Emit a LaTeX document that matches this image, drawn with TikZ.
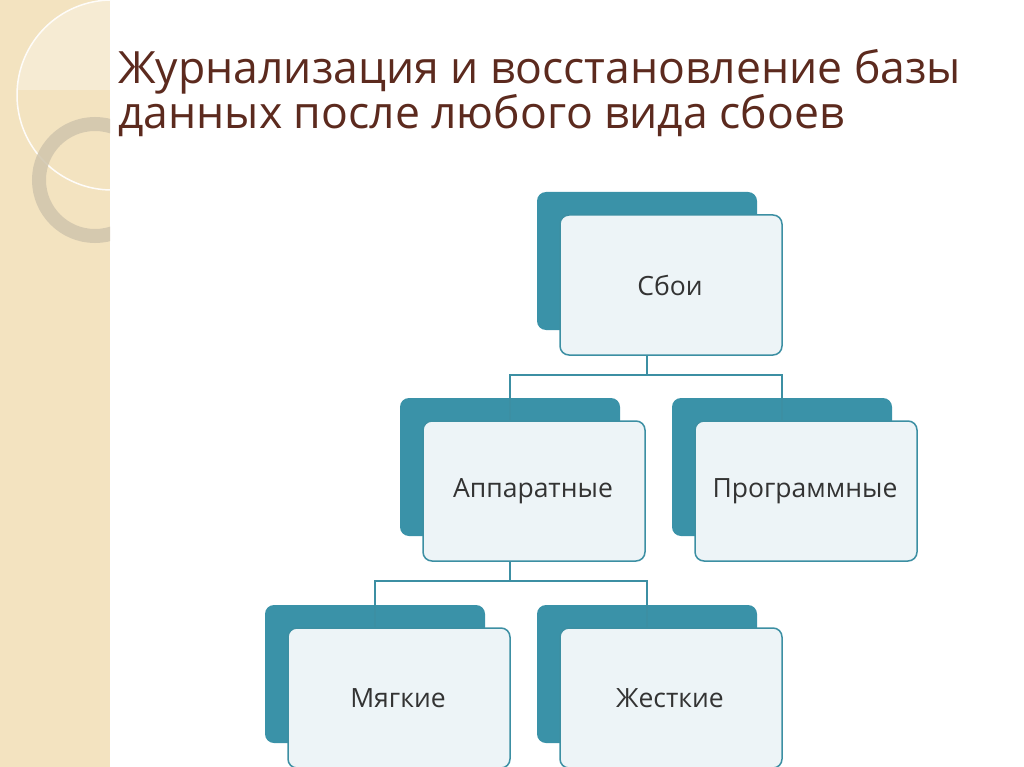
\documentclass[tikz,border=0pt]{standalone}
\usepackage{fontspec}
\setmainfont{Open Sans}
\definecolor{teal}{HTML}{3A92A8}
\definecolor{tealb}{HTML}{3C8FA3}
\definecolor{pale}{HTML}{EDF4F7}
\definecolor{strip}{HTML}{F3E3C0}
\definecolor{titlec}{HTML}{5C2A1E}
\begin{document}
\begin{tikzpicture}[x=1pt,y=-1pt,
 backbox/.style={fill=teal,rounded corners=9pt},
 frontbox/.style={fill=pale,draw=tealb,line width=1.5pt,rounded corners=9pt},
 lbl/.style={font=\fontsize{26.5}{30}\selectfont,text=black!80},
 link/.style={draw=tealb,line width=1.3pt}]
\useasboundingbox (0,0) rectangle (1024,767);
\fill[white] (0,0) rectangle (1024,767);
\begin{scope}
\clip (0,0) rectangle (110,767);
\fill[strip] (0,0) rectangle (110,767);
\begin{scope}
\clip (112,95) circle (95);
\fill[white,opacity=0.3] (0,0) rectangle (110,90);
\end{scope}
\draw[white!90!strip,line width=1.5pt] (112,95) circle (95);
\draw[gray!30!strip,line width=14pt,opacity=0.85] (95,180) circle (56);
\end{scope}
\node[anchor=west,text=titlec,font=\fontsize{44.5}{39}\selectfont,align=left,inner sep=0] (title) at (118,93) {Журнализация и восстановление базы\\данных после любого вида сбоев};
\newcommand{\mybox}[4]{%
 \fill[backbox] (#1,#2) rectangle ++(220,138);
 \draw[frontbox] (#1+23,#2+23) rectangle ++(222,140);
 \node[lbl] (#3) at (#1+133,#2+93) {#4};
 \coordinate (#3t) at (#1+110,#2+23);
 \coordinate (#3b) at (#1+110,#2+163);}
\mybox{537}{192}{s}{Сбои}
\mybox{400}{398}{a}{Аппаратные}
\mybox{672}{398}{p}{Программные}
\mybox{265}{605}{m}{Мягкие}
\mybox{537}{605}{z}{Жесткие}
\draw[link] (sb) -- ++(0,20) -| (at);
\draw[link] (sb) ++(0,20) -| (pt);
\draw[link] (ab) -- ++(0,20) -| (mt);
\draw[link] (ab) ++(0,20) -| (zt);
\end{tikzpicture}
\end{document}
